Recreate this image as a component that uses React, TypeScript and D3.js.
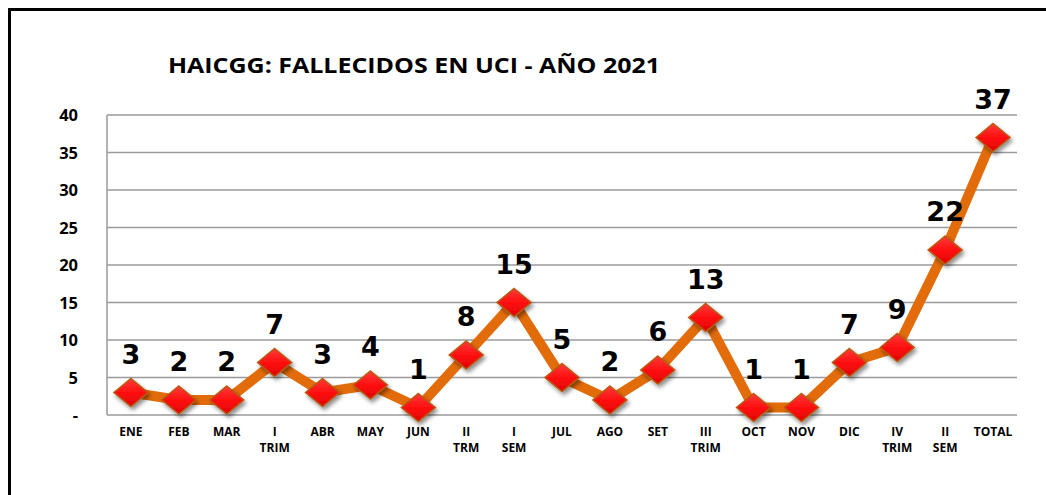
import React from "react";
import * as d3 from "d3";

const categories: string[][] = [
  ["ENE"], ["FEB"], ["MAR"], ["I", "TRIM"], ["ABR"], ["MAY"], ["JUN"], ["II", "TRM"], ["I", "SEM"],
  ["JUL"], ["AGO"], ["SET"], ["III", "TRIM"], ["OCT"], ["NOV"], ["DIC"], ["IV", "TRIM"], ["II", "SEM"], ["TOTAL"],
];
const values: number[] = [3, 2, 2, 7, 3, 4, 1, 8, 15, 5, 2, 6, 13, 1, 1, 7, 9, 22, 37];
const yTicks: number[] = [0, 5, 10, 15, 20, 25, 30, 35, 40];
const title = "HAICGG: FALLECIDOS EN UCI - AÑO 2021";

export default function App() {
  const W = 1046, H = 495;
  const left = 107, right = 1017, top = 115, bottom = 415;
  const x = d3.scaleBand<number>().domain(categories.map((_, i) => i)).range([left, right]);
  const y = d3.scaleLinear().domain([0, 40]).range([bottom, top]);
  const cx = (i: number) => (x(i) as number) + x.bandwidth() / 2;
  const line = d3.line<number>().x((_, i) => cx(i)).y((d) => y(d));
  const labelFont = "Open Sans, Liberation Sans, sans-serif";
  const dw = 17, dh = 14;
  const diamond = `M0,${-dh} L${dw},0 L0,${dh} L${-dw},0 Z`;
  return (
    <svg width={W} height={H} style={{ position: "absolute", left: 0, top: 0 }}>
      <defs>
        <linearGradient id="dg" x1="0" y1="0" x2="0" y2="1">
          <stop offset="0" stopColor="#ff3a3a" />
          <stop offset="0.5" stopColor="#ff1010" />
          <stop offset="1" stopColor="#e00000" />
        </linearGradient>
        <filter id="sh" x="-50%" y="-50%" width="200%" height="200%">
          <feDropShadow dx="2" dy="3" stdDeviation="2" floodColor="#000" floodOpacity="0.45" />
        </filter>
      </defs>
      <rect x={0} y={0} width={W} height={H} fill="#fff" />
      <rect x={9.5} y={9.5} width={W + 20} height={H + 20} fill="none" stroke="#000" strokeWidth={3} />
      <text x={168} y={73} fontFamily={labelFont} fontWeight={700} fontSize={21} textLength={492} lengthAdjust="spacingAndGlyphs" fill="#000">{title}</text>
      {yTicks.map((t) => (
        <g key={t}>
          {t > 0 && <line x1={left} x2={right} y1={y(t)} y2={y(t)} stroke="#9a9a9a" strokeWidth={1.5} />}
          <text x={78} y={y(t) + 6} textAnchor="end" fontFamily={labelFont} fontWeight={700} fontSize={16.5} fill="#000">
            {t === 0 ? "-" : t}
          </text>
        </g>
      ))}
      <line x1={left} x2={left} y1={top} y2={bottom} stroke="#9a9a9a" strokeWidth={1.5} />
      <line x1={left} x2={right} y1={bottom} y2={bottom} stroke="#9a9a9a" strokeWidth={1.5} />
      {categories.map((c, i) => (
        <text key={i} x={cx(i)} y={436} textAnchor="middle" fontFamily={labelFont} fontWeight={700} fontSize={12} fill="#000">
          {c.map((s, j) => (
            <tspan key={j} x={cx(i)} dy={j === 0 ? 0 : 16}>{s}</tspan>
          ))}
        </text>
      ))}
      <path d={line(values) || ""} fill="none" stroke="#e36c0a" strokeWidth={10} strokeLinejoin="round" />
      {values.map((v, i) => (
        <path key={i} d={diamond} transform={`translate(${cx(i)},${y(v)})`} fill="url(#dg)" stroke="#b85a10" strokeWidth={1.5} filter="url(#sh)" />
      ))}
      {values.map((v, i) => (
        <text key={i} x={cx(i)} y={y(v) - 29} textAnchor="middle" fontFamily="DejaVu Sans, sans-serif" fontWeight={700} fontSize={27} fill="#000">
          {v}
        </text>
      ))}
    </svg>
  );
}
